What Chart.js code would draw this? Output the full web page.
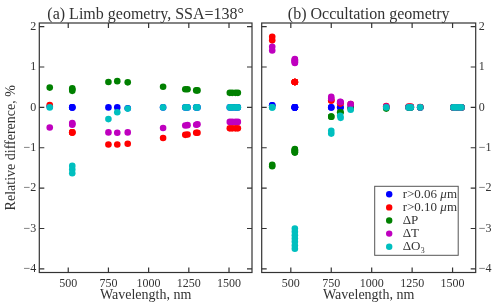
<!DOCTYPE html>
<html><head><meta charset="utf-8">
<script src="https://cdn.jsdelivr.net/npm/chart.js@4"></script>
<style>
html,body{margin:0;padding:0;background:#fff;}
#wrap{position:relative;width:500px;height:308px;overflow:hidden;}
.pane{position:absolute;top:0;height:308px;}
#pa{left:0;width:258px;}
#pb{left:258px;width:242px;}
</style></head><body>
<div id="wrap"><div class="pane" id="pa"><canvas id="ca"></canvas></div><div class="pane" id="pb"><canvas id="cb"></canvas></div></div>
<script>
// ---- labels / ticks ----
const seriesNames = ['r>0.06 μm', 'r>0.10 μm', 'ΔP', 'ΔT', 'ΔO₃'];
const seriesColors = ['#0000ff', '#ff0000', '#008000', '#bf00bf', '#00bfbf'];
const xTicks = [500, 750, 1000, 1250, 1500];
const yTicks = [2, 1, 0, -1, -2, -3, -4];
const titleA = '(a) Limb geometry, SSA=138°';
const titleB = '(b) Occultation geometry';

// ---- panel (a): limb geometry ----
const limbWavelength = [385, 525, 525, 525, 750, 805, 870, 1090, 1228, 1242, 1296, 1304, 1505, 1520, 1540, 1555];
const limbR006 = [0.02, 0, 0, 0, 0, 0, -0.02, 0, 0, 0, 0, 0, 0, 0, 0, 0];
const limbR010 = [0.06, -0.62, -0.62, -0.62, -0.92, -0.92, -0.90, -0.76, -0.68, -0.67, -0.63, -0.63, -0.52, -0.52, -0.52, -0.52];
const limbDP = [0.49, 0.41, 0.44, 0.47, 0.63, 0.65, 0.62, 0.51, 0.45, 0.45, 0.42, 0.42, 0.36, 0.36, 0.36, 0.36];
const limbDT = [-0.50, -0.39, -0.41, -0.43, -0.62, -0.63, -0.62, -0.51, -0.45, -0.44, -0.43, -0.42, -0.36, -0.36, -0.36, -0.36];
const limbDO3 = [0, -1.45, -1.54, -1.63, -0.29, -0.12, -0.03, 0, 0, 0, 0, 0, 0, 0, 0, 0];

// ---- panel (b): occultation geometry ----
const occWavelength = [385, 385, 525, 525, 525, 525, 525, 525, 525, 750, 750, 805, 808, 870, 1090, 1228, 1242, 1300, 1505, 1520, 1540, 1555];
const occR006 = [0.05, 0.05, 0, 0, 0, 0, 0, 0, 0, 0, 0, 0, 0, 0.01, 0.01, 0, 0, 0, 0, 0, 0, 0];
const occR010 = [1.75, 1.66, 0.63, 0.63, 0.63, 0.63, 0.63, 0.63, 0.63, 0.17, 0.17, 0.10, 0.10, 0.08, 0.03, 0.02, 0.02, 0.01, 0, 0, 0, 0];
const occDP = [-1.42, -1.46, -1.03, -1.05, -1.06, -1.08, -1.09, -1.11, -1.12, -0.23, -0.23, -0.12, -0.12, -0.03, -0.03, 0, 0, 0, 0, 0, 0, 0];
const occDT = [1.50, 1.41, 1.20, 1.18, 1.17, 1.15, 1.13, 1.12, 1.10, 0.26, 0.22, 0.14, 0.13, 0.08, 0.02, 0.01, 0.01, 0, 0, 0, 0, 0];
const occDO3 = [0, 0, -3.0, -3.08, -3.17, -3.25, -3.33, -3.42, -3.5, -0.58, -0.65, -0.21, -0.26, -0.06, 0, 0, 0, 0, 0, 0, 0, 0];

const SERIF = "'Liberation Serif', 'DejaVu Serif', serif";
const FG = '#333';

function makeDatasets(wl, lists) {
  return lists.map((vals, i) => ({
    label: seriesNames[i],
    data: wl.map((w, k) => ({ x: w, y: vals[k] })),
    backgroundColor: seriesColors[i],
    borderColor: seriesColors[i],
    borderWidth: 0,
    pointRadius: 3.3,
    pointHoverRadius: 3.3,
    order: lists.length - i
  }));
}
const minus = v => String(v).replace('-', '\u2212');

const framePlugin = {
  id: 'frame',
  afterDatasetsDraw(chart, args, opts) {
    const { ctx, chartArea: a, scales: { x, y } } = chart;
    ctx.save();
    ctx.strokeStyle = FG;
    ctx.lineWidth = 1.2;
    ctx.strokeRect(a.left, a.top, a.right - a.left, a.bottom - a.top);
    ctx.beginPath();
    const L = 5;
    xTicks.forEach(v => {
      const p = x.getPixelForValue(v);
      ctx.moveTo(p, a.bottom); ctx.lineTo(p, a.bottom - L);
      ctx.moveTo(p, a.top); ctx.lineTo(p, a.top + L);
    });
    yTicks.forEach(v => {
      const p = y.getPixelForValue(v);
      ctx.moveTo(a.left, p); ctx.lineTo(a.left + L, p);
      ctx.moveTo(a.right, p); ctx.lineTo(a.right - L, p);
    });
    ctx.stroke();
    // panel title centred over the plot area
    ctx.fillStyle = FG;
    ctx.font = "16px " + SERIF;
    ctx.textAlign = 'center';
    ctx.textBaseline = 'alphabetic';
    ctx.fillText(chart.options.plugins.frame.title, (a.left + a.right) / 2, a.top - 4.5);
    ctx.restore();
  }
};

const legendPlugin = {
  id: 'innerLegend',
  afterDraw(chart) {
    const { ctx, chartArea: a } = chart;
    const w = 83.5, h = 69;
    const bx = a.right - 18 - w, by = a.bottom - 17.7 - h;
    ctx.save();
    ctx.fillStyle = '#fff';
    ctx.fillRect(bx, by, w, h);
    ctx.strokeStyle = '#555';
    ctx.lineWidth = 1;
    ctx.strokeRect(bx + 0.5, by + 0.5, w, h);
    const rowH = 13.1;
    ctx.textBaseline = 'middle';
    seriesNames.forEach((name, i) => {
      const cy = by + 8.5 + i * rowH;
      ctx.fillStyle = seriesColors[i];
      ctx.beginPath();
      ctx.arc(bx + 15, cy, 3.2, 0, Math.PI * 2);
      ctx.fill();
      ctx.fillStyle = FG;
      let tx = bx + 28.5;
      const parts = name.split('μ');
      ctx.font = "13px " + SERIF;
      ctx.fillText(parts[0], tx, cy);
      if (parts.length > 1) {
        tx += ctx.measureText(parts[0]).width;
        ctx.font = "italic 13px " + SERIF;
        ctx.fillText('μ', tx, cy);
        tx += ctx.measureText('μ').width;
        ctx.font = "13px " + SERIF;
        ctx.fillText(parts[1], tx, cy);
      }
    });
    ctx.restore();
  }
};

function makeChart(id, title, wl, lists, right) {
  const yScale = {
    type: 'linear', min: -4.09, max: 2.09,
    position: right ? 'right' : 'left',
    afterBuildTicks: s => { s.ticks = yTicks.map(v => ({ value: v })); },
    afterFit: s => { s.width = right ? 24.3 : 39.3; },
    grid: { display: false, drawTicks: false },
    border: { display: false },
    ticks: { color: FG, font: { family: SERIF, size: 12 }, padding: 3, callback: v => minus(v) },
    title: { display: !right, text: 'Relative difference, %', color: FG, font: { family: SERIF, size: 14 }, padding: { top: 3, bottom: 0 } }
  };
  const plugins = [framePlugin];
  if (right) plugins.push(legendPlugin);
  return new Chart(document.getElementById(id), {
    type: 'scatter',
    data: { datasets: makeDatasets(wl, lists) },
    options: {
      responsive: true, maintainAspectRatio: false, animation: false,
      events: [],
      layout: { padding: right ? { left: 3.7, right: 0, top: 23, bottom: 0 } : { left: 0, right: 6, top: 23, bottom: 0 } },
      scales: {
        x: {
          type: 'linear', min: 320, max: 1643,
          afterBuildTicks: s => { s.ticks = xTicks.map(v => ({ value: v })); },
          afterFit: s => { s.height = 35.5; },
          grid: { display: false, drawTicks: false },
          border: { display: false },
          ticks: { color: FG, font: { family: SERIF, size: 12 }, padding: 4, maxRotation: 0, callback: v => String(v) },
          title: { display: true, text: 'Wavelength, nm', color: FG, font: { family: SERIF, size: 14 }, padding: { top: 0, bottom: 4 } }
        },
        y: yScale
      },
      plugins: {
        legend: { display: false },
        tooltip: { enabled: false },
        title: { display: false },
        frame: { title: title }
      }
    },
    plugins
  });
}

makeChart('ca', titleA, limbWavelength, [limbR006, limbR010, limbDP, limbDT, limbDO3], false);
makeChart('cb', titleB, occWavelength, [occR006, occR010, occDP, occDT, occDO3], true);
</script>
</body></html>
